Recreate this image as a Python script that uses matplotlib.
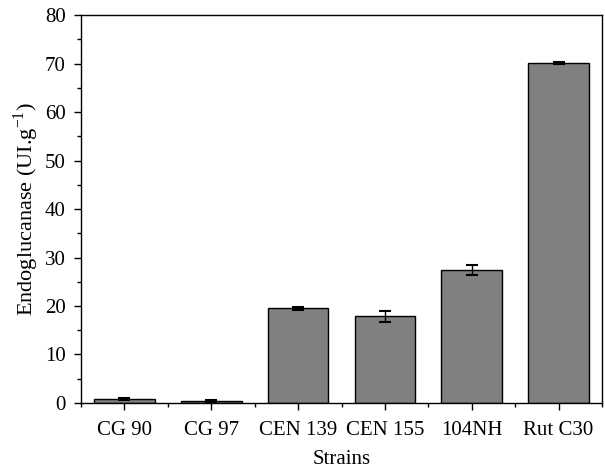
import matplotlib
matplotlib.use("Agg")
import matplotlib.pyplot as plt
from matplotlib.ticker import MultipleLocator, FixedLocator

strains = ["CG 90", "CG 97", "CEN 139", "CEN 155", "104NH", "Rut C30"]
values = [0.8, 0.4, 19.5, 17.9, 27.4, 70.1]
errors = [0.15, 0.15, 0.35, 1.1, 1.05, 0.2]

plt.rcParams['font.family'] = ['Liberation Serif', 'DejaVu Serif']
plt.rcParams['mathtext.fontset'] = 'custom'
plt.rcParams['mathtext.rm'] = 'Liberation Serif'

fig = plt.figure(figsize=(6.05, 4.71), dpi=100)
ax = fig.add_axes([0.134, 0.1444, 0.861, 0.8236])
x = list(range(len(strains)))
ax.bar(x, values, width=0.70, color="#808080", edgecolor="black", linewidth=1.0,
       yerr=errors, capsize=4, error_kw=dict(ecolor="black", elinewidth=1.0, capthick=1.5))
ax.set_xlim(-0.5, 5.5)
ax.set_ylim(0, 80)
ax.set_xticks(x)
ax.set_xticklabels(strains)
ax.xaxis.set_minor_locator(FixedLocator([i + 0.5 for i in range(-1, 6)]))
ax.yaxis.set_major_locator(MultipleLocator(10))
ax.yaxis.set_minor_locator(MultipleLocator(5))
ax.tick_params(axis='x', which='major', direction='out', length=5, width=1, labelsize=15, pad=8)
ax.tick_params(axis='y', which='major', direction='out', length=5, width=1, labelsize=15, pad=6)
ax.tick_params(axis='both', which='minor', direction='out', length=3, width=1)
for s in ax.spines.values():
    s.set_linewidth(1)
ax.set_xlabel("Strains", fontsize=15, labelpad=7)
ax.set_ylabel("Endoglucanase (UI.g$^{-1}$)", fontsize=16, labelpad=3)
fig.savefig("out.png", dpi=100)
